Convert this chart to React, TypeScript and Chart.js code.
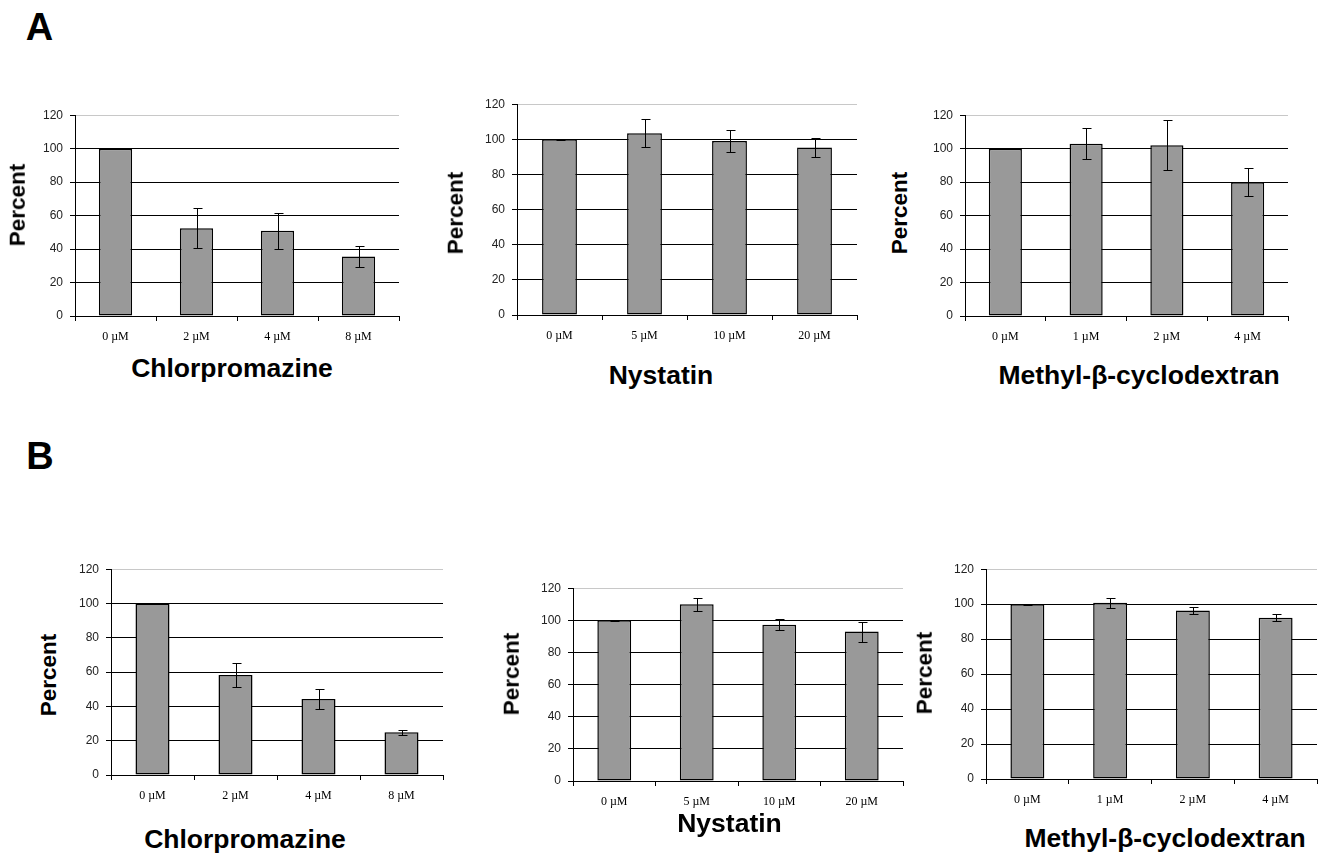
import React, { useEffect, useRef } from 'react';
import { Chart, registerables } from 'chart.js';

Chart.register(...registerables);

// ---- Data ----
const chlorLabels = ['0 µM', '2 µM', '4 µM', '8 µM'];
const nystatinLabels = ['0 µM', '5 µM', '10 µM', '20 µM'];
const mbcdLabels = ['0 µM', '1 µM', '2 µM', '4 µM'];
const yTickValues = [0, 20, 40, 60, 80, 100, 120];

const aChlorMeans = [100, 52.5, 51, 35.5];
const aChlorErrors = [0.2, 11.8, 10.7, 6.2];
const aNystatinMeans = [100, 103.5, 99, 95.3];
const aNystatinErrors = [0.2, 8, 6.3, 5.4];
const aMbcdMeans = [100, 103, 102, 80];
const aMbcdErrors = [0.2, 9.2, 15, 8.2];

const bChlorMeans = [100, 58.3, 44.3, 25];
const bChlorErrors = [0.2, 7, 6, 1.5];
const bNystatinMeans = [100, 110, 97.3, 93];
const bNystatinErrors = [0.2, 4, 3.5, 6.2];
const bMbcdMeans = [100, 100.8, 96.4, 92.3];
const bMbcdErrors = [0.2, 3, 1.8, 1.9];

const yTitle = 'Percent';
const panelLetters = ['A', 'B'];

// ---- Layout (positions only) ----
type Rect = { l: number; t: number; r: number; b: number };
type Panel = {
  labels: string[];
  means: number[];
  errors: number[];
  xTitle: string;
  rect: Rect;
  yTitlePos: [number, number];
  xTitlePos: [number, number];
};

const panels: Panel[] = [
  { labels: chlorLabels, means: aChlorMeans, errors: aChlorErrors, xTitle: 'Chlorpromazine',
    rect: { l: 75, t: 113, r: 399, b: 316 }, yTitlePos: [18, 205], xTitlePos: [232, 367.5] },
  { labels: nystatinLabels, means: aNystatinMeans, errors: aNystatinErrors, xTitle: 'Nystatin',
    rect: { l: 517, t: 102, r: 857, b: 315 }, yTitlePos: [456, 213], xTitlePos: [661, 374.5] },
  { labels: mbcdLabels, means: aMbcdMeans, errors: aMbcdErrors, xTitle: 'Methyl-β-cyclodextran',
    rect: { l: 965, t: 113, r: 1288, b: 316 }, yTitlePos: [900, 213], xTitlePos: [1139, 375] },
  { labels: chlorLabels, means: bChlorMeans, errors: bChlorErrors, xTitle: 'Chlorpromazine',
    rect: { l: 111, t: 567, r: 443, b: 775 }, yTitlePos: [49, 675], xTitlePos: [245, 839] },
  { labels: nystatinLabels, means: bNystatinMeans, errors: bNystatinErrors, xTitle: 'Nystatin',
    rect: { l: 573, t: 586, r: 903, b: 781 }, yTitlePos: [512, 674], xTitlePos: [729.5, 822.5] },
  { labels: mbcdLabels, means: bMbcdMeans, errors: bMbcdErrors, xTitle: 'Methyl-β-cyclodextran',
    rect: { l: 986, t: 567, r: 1317, b: 779 }, yTitlePos: [925, 673], xTitlePos: [1165, 838] },
];

const letterPos: [number, number][] = [[39.5, 26.7], [40, 455.5]];

const PADL = 50;
const PADT = 12;
const PADR = 4;
const PADB = 34;

const errorBarPlugin = {
  id: 'errorBars',
  afterDatasetsDraw(chart: any) {
    const ctx = chart.ctx;
    const yScale = chart.scales.y;
    chart.data.datasets.forEach((ds: any, di: number) => {
      const meta = chart.getDatasetMeta(di);
      const errs: number[] = ds.errors || [];
      meta.data.forEach((bar: any, i: number) => {
        const v = ds.data[i];
        const e = errs[i] || 0;
        const x = Math.round(bar.x) + 0.5;
        const yt = Math.round(yScale.getPixelForValue(v + e)) + 0.5;
        const yb = Math.round(yScale.getPixelForValue(v - e)) + 0.5;
        ctx.save();
        ctx.strokeStyle = '#000';
        ctx.lineWidth = 1;
        ctx.beginPath();
        ctx.moveTo(x, yt);
        ctx.lineTo(x, yb);
        ctx.moveTo(x - 4, yt);
        ctx.lineTo(x + 5, yt);
        ctx.moveTo(x - 4, yb);
        ctx.lineTo(x + 5, yb);
        ctx.stroke();
        ctx.restore();
      });
    });
  },
};

function PanelChart({ p }: { p: Panel }) {
  const ref = useRef<HTMLCanvasElement | null>(null);
  const W = p.rect.r - p.rect.l;
  const H = p.rect.b - p.rect.t;
  const cw = PADL + W + PADR;
  const ch = PADT + H + PADB;

  useEffect(() => {
    if (!ref.current) return;
    const chart = new Chart(ref.current, {
      type: 'bar',
      data: {
        labels: p.labels,
        datasets: [
          {
            data: p.means,
            errors: p.errors,
            backgroundColor: '#999999',
            borderColor: '#000000',
            borderWidth: 1.5,
            borderSkipped: false,
            inflateAmount: 0,
            barPercentage: 0.41,
            categoryPercentage: 1,
          } as any,
        ],
      },
      options: {
        responsive: false,
        animation: false,
        devicePixelRatio: 1,
        layout: { padding: { left: 0, top: PADT, right: PADR, bottom: 0 } },
        plugins: { legend: { display: false }, tooltip: { enabled: false } },
        scales: {
          x: {
            type: 'category',
            offset: true,
            grid: {
              offset: true,
              drawOnChartArea: false,
              drawTicks: true,
              tickLength: 5,
              color: '#000',
            },
            border: { color: '#000', width: 1 },
            ticks: {
              font: { family: '"Liberation Serif", "Times New Roman", serif', size: 12 },
              color: '#000',
              padding: 9,
              maxRotation: 0,
              autoSkip: false,
            },
            afterFit: (s: any) => {
              s.height = PADB;
            },
          },
          y: {
            min: 0,
            max: 120,
            afterBuildTicks: (s: any) => {
              s.ticks = yTickValues.map((v) => ({ value: v }));
            },
            grid: {
              color: (c: any) => (c.tick && c.tick.value === 120 ? '#c8c8c8' : '#000'),
              tickColor: '#000',
              tickLength: 5,
              lineWidth: 1,
            },
            border: { color: '#000', width: 1 },
            ticks: {
              font: { family: '"Liberation Sans", Arial, sans-serif', size: 12 },
              color: '#222',
              padding: 7,
            },
            afterFit: (s: any) => {
              s.width = PADL;
            },
          },
        },
      } as any,
      plugins: [errorBarPlugin],
    });
    return () => chart.destroy();
  }, []);

  return (
    <canvas
      ref={ref}
      width={cw}
      height={ch}
      style={{
        position: 'absolute',
        left: p.rect.l - PADL,
        top: p.rect.t - PADT,
        width: cw,
        height: ch,
      }}
    />
  );
}

const baseText: React.CSSProperties = {
  position: 'absolute',
  fontFamily: '"Liberation Sans", Arial, sans-serif',
  fontWeight: 'bold',
  lineHeight: 1,
  whiteSpace: 'nowrap',
  color: '#000',
};

export default function App() {
  return (
    <div
      style={{
        position: 'absolute',
        left: 0,
        top: 0,
        width: 1318,
        height: 855,
        overflow: 'hidden',
        background: '#fff',
      }}
    >
      {panelLetters.map((t, i) => (
        <div
          key={t}
          style={{
            ...baseText,
            left: letterPos[i][0],
            top: letterPos[i][1],
            fontSize: 38,
            transform: 'translate(-50%, -50%)',
          }}
        >
          {t}
        </div>
      ))}
      {panels.map((p, i) => (
        <React.Fragment key={i}>
          <PanelChart p={p} />
          <div
            style={{
              ...baseText,
              left: p.yTitlePos[0],
              top: p.yTitlePos[1],
              fontSize: 22.5,
              transform: 'translate(-50%, -50%) rotate(-90deg)',
            }}
          >
            {yTitle}
          </div>
          <div
            style={{
              ...baseText,
              left: p.xTitlePos[0],
              top: p.xTitlePos[1],
              fontSize: 26.5,
              transform: 'translate(-50%, -50%)',
            }}
          >
            {p.xTitle}
          </div>
        </React.Fragment>
      ))}
    </div>
  );
}
